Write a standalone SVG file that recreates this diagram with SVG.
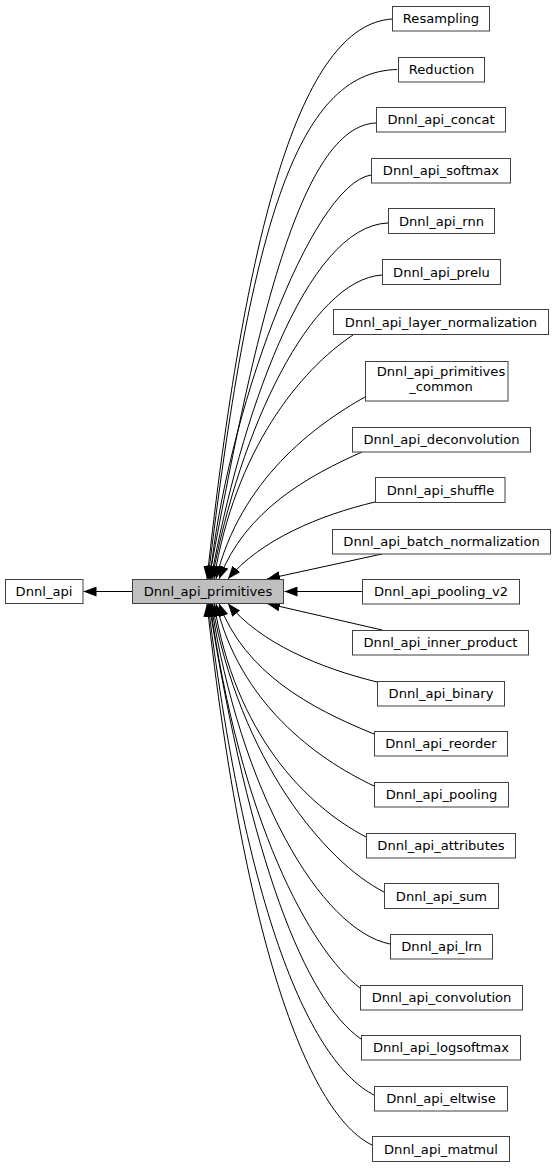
<svg xmlns="http://www.w3.org/2000/svg" width="556" height="1168" viewBox="0 0 556 1168">
<style>
.node rect{fill:#ffffff;stroke:#404040;stroke-width:1}
.node.cur rect{fill:#bfbfbf}
.node text{font-family:"DejaVu Sans","Liberation Sans",sans-serif;font-size:13.1px;text-anchor:middle;fill:#000}
.edge path{fill:none;stroke:#000;stroke-width:1;marker-end:url(#arr)}
</style>
<defs>
<marker id="arr" markerUnits="userSpaceOnUse" markerWidth="13" markerHeight="10" viewBox="0 0 13 10" refX="13" refY="5" orient="auto">
<path d="M0,0 L13,5 L0,10 Z" fill="#000"/>
</marker>
</defs>
<rect width="556" height="1168" fill="#ffffff"/>
<g id="edges" class="edge">
<path d="M132,591.5 L83.5,591.5"/>
<path d="M392,19 C300,25 245,230 207,579"/>
<path d="M397,69.5 C295,72 250,230 208,579"/>
<path d="M376,123 C300,126 255,330 209,579"/>
<path d="M371,175 C310,185 225,420 210,579"/>
<path d="M388,223 C305,226 240,420 211,579"/>
<path d="M382,275 C310,280 240,430 212,579"/>
<path d="M353,335 C300,370 235,450 214,579"/>
<path d="M365,397 C315,425 240,480 216,579"/>
<path d="M362,452 C310,475 245,510 219,579"/>
<path d="M375,502 C320,515 260,540 228,579"/>
<path d="M382,554 L267,579"/>
<path d="M362,591.5 L284.5,591.5"/>
<path d="M382,630 L267,603.5"/>
<path d="M377,682 C320,668 260,643 228,603.5"/>
<path d="M374,734 C310,708 245,673 219,603.5"/>
<path d="M374,786 C315,758 240,703 216,603.5"/>
<path d="M366,837 C305,805 235,733 214,603.5"/>
<path d="M384,892 C325,862 240,760 212,603.5"/>
<path d="M390,944 C320,930 240,790 211,603.5"/>
<path d="M360,988 C310,950 240,820 210,603.5"/>
<path d="M361,1039 C305,1000 250,860 209,603.5"/>
<path d="M374,1095 C315,1065 248,930 208,603.5"/>
<path d="M372,1145 C310,1115 245,950 207,603.5"/>
</g>
<g id="n_api" class="node"><rect x="5.5" y="579.5" width="77.5" height="24"/><text x="44" y="596">Dnnl_api</text></g>
<g id="n_primitives" class="node cur"><rect x="132.5" y="579.5" width="151" height="24"/><text x="208" y="596">Dnnl_api_primitives</text></g>
<g id="n_resampling" class="node"><rect x="392.5" y="6.5" width="97" height="24.5"/><text x="441" y="23">Resampling</text></g>
<g id="n_reduction" class="node"><rect x="398.5" y="57.5" width="86" height="24.5"/><text x="441.5" y="74">Reduction</text></g>
<g id="n_concat" class="node"><rect x="376.5" y="107.5" width="129" height="24.5"/><text x="441" y="124">Dnnl_api_concat</text></g>
<g id="n_softmax" class="node"><rect x="371.5" y="158.5" width="139" height="24.5"/><text x="441" y="175">Dnnl_api_softmax</text></g>
<g id="n_rnn" class="node"><rect x="388.5" y="208.5" width="106" height="25"/><text x="441.5" y="225.5">Dnnl_api_rnn</text></g>
<g id="n_prelu" class="node"><rect x="382.5" y="259.5" width="118" height="25"/><text x="441.5" y="276.5">Dnnl_api_prelu</text></g>
<g id="n_layer" class="node"><rect x="333.5" y="309.5" width="215" height="25"/><text x="441" y="326.5">Dnnl_api_layer_normalization</text></g>
<g id="n_primitives_common" class="node"><rect x="365.5" y="361.5" width="142.5" height="39.5"/><text x="441" y="376">Dnnl_api_primitives</text><text x="441" y="391">_common</text></g>
<g id="n_deconvolution" class="node"><rect x="352.5" y="427.5" width="178" height="24.5"/><text x="441.5" y="444">Dnnl_api_deconvolution</text></g>
<g id="n_shuffle" class="node"><rect x="375.5" y="477.5" width="129.5" height="25"/><text x="440.5" y="494.5">Dnnl_api_shuffle</text></g>
<g id="n_batch" class="node"><rect x="332.5" y="529.5" width="218" height="24.5"/><text x="441.5" y="546">Dnnl_api_batch_normalization</text></g>
<g id="n_pooling_v2" class="node"><rect x="362.5" y="579.5" width="157" height="24.5"/><text x="441" y="596">Dnnl_api_pooling_v2</text></g>
<g id="n_inner" class="node"><rect x="352.5" y="630.5" width="176" height="24.5"/><text x="440.5" y="647">Dnnl_api_inner_product</text></g>
<g id="n_binary" class="node"><rect x="377.5" y="681.5" width="127" height="24.5"/><text x="441" y="698">Dnnl_api_binary</text></g>
<g id="n_reorder" class="node"><rect x="374.5" y="731.5" width="133" height="24.5"/><text x="441" y="748">Dnnl_api_reorder</text></g>
<g id="n_pooling" class="node"><rect x="374.5" y="782.5" width="134" height="24.5"/><text x="441.5" y="799">Dnnl_api_pooling</text></g>
<g id="n_attributes" class="node"><rect x="366.5" y="833.5" width="149" height="24.5"/><text x="441" y="850">Dnnl_api_attributes</text></g>
<g id="n_sum" class="node"><rect x="384.5" y="883.5" width="114" height="25"/><text x="441.5" y="900.5">Dnnl_api_sum</text></g>
<g id="n_lrn" class="node"><rect x="390.5" y="934.5" width="102" height="24.5"/><text x="441.5" y="951">Dnnl_api_lrn</text></g>
<g id="n_convolution" class="node"><rect x="360.5" y="985.5" width="162" height="24.5"/><text x="441.5" y="1002">Dnnl_api_convolution</text></g>
<g id="n_logsoftmax" class="node"><rect x="361.5" y="1035.5" width="159" height="24.5"/><text x="441" y="1052">Dnnl_api_logsoftmax</text></g>
<g id="n_eltwise" class="node"><rect x="374.5" y="1086.5" width="133" height="24.5"/><text x="441" y="1103">Dnnl_api_eltwise</text></g>
<g id="n_matmul" class="node"><rect x="372.5" y="1136.5" width="137" height="25"/><text x="441" y="1153.5">Dnnl_api_matmul</text></g>
</svg>
